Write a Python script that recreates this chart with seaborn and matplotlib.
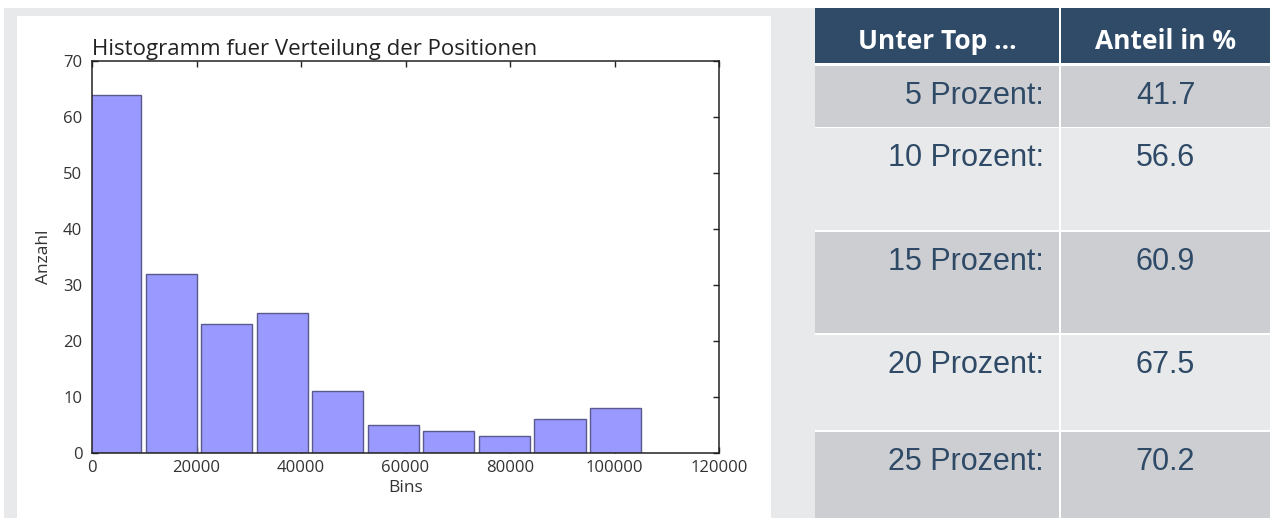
import numpy as np
import matplotlib
matplotlib.use("Agg")
import matplotlib.pyplot as plt
from matplotlib.patches import Rectangle
import seaborn as sns

# Histogram data (bin counts)
bin_edges = [-785, 9845, 20475, 31105, 41735, 52365, 62995, 73625, 84255, 94885, 105515]
counts = [64, 32, 23, 25, 11, 5, 4, 3, 6, 8]

# Table data
header = ["Unter Top ...", "Anteil in %"]
top_labels = ["5 Prozent:", "10 Prozent:", "15 Prozent:", "20 Prozent:", "25 Prozent:"]
anteil = [41.7, 56.6, 60.9, 67.5, 70.2]

sns.set_theme(style="ticks")
plt.rcParams["font.family"] = ["Open Sans", "DejaVu Sans"]

W, H = 1270, 518
fig = plt.figure(figsize=(W / 100, H / 100), dpi=100)
fig.patch.set_facecolor("white")

# background layer in pixel coordinates
bg = fig.add_axes([0, 0, 1, 1])
bg.set_xlim(0, W)
bg.set_ylim(H, 0)
bg.axis("off")
bg.add_patch(Rectangle((4, 8), W - 4, H - 8, color="#e8e9eb", lw=0))
bg.add_patch(Rectangle((17, 16), 771 - 17, H - 16, color="white", lw=0))

# table
navy = "#2f4b68"
txt_col = "#2e4a66"
col_l = (815, 1059)
col_r = (1061, 1270)
bg.add_patch(Rectangle((815, 8), W - 815, H - 8, color="white", lw=0))
for (x0, x1), h in zip([col_l, col_r], header):
    bg.add_patch(Rectangle((x0, 8), x1 - x0, 63 - 8, color=navy, lw=0))
    bg.text((x0 + x1) / 2, 49, h, ha="center", va="baseline", color="white",
            fontsize=19, fontweight="bold", family="Open Sans")

row_tops = [66, 128, 232, 335, 432]
row_bots = [127, 230, 333, 430, 518]
row_cols = ["#cdced2", "#e8e9eb", "#cdced2", "#e8e9eb", "#cdced2"]
for lab, val, y0, y1, c in zip(top_labels, anteil, row_tops, row_bots, row_cols):
    for x0, x1 in [col_l, col_r]:
        bg.add_patch(Rectangle((x0, y0), x1 - x0, y1 - y0, color=c, lw=0))
    bg.text(1044, y0 + 38, lab, ha="right", va="baseline", color=txt_col,
            fontsize=22, family="Liberation Sans")
    bg.text((col_r[0] + col_r[1]) / 2, y0 + 38, f"{val:.1f}", ha="center",
            va="baseline", color=txt_col, fontsize=22, family="Liberation Sans")

# histogram axes
ax = fig.add_axes([92 / W, (H - 453) / H, (719 - 92) / W, (453 - 61) / H])
ax.set_facecolor("white")
centers = (np.array(bin_edges[:-1]) + np.array(bin_edges[1:])) / 2
sns.histplot(x=centers, weights=counts, bins=bin_edges, shrink=0.92,
             color="#9999ff", edgecolor="#5a5a8c", linewidth=1, alpha=1, ax=ax)

ax.set_xlim(0, 120000)
ax.set_ylim(0, 70)
ax.set_xticks(np.arange(0, 120001, 20000))
ax.set_yticks(np.arange(0, 71, 10))
for s in ax.spines.values():
    s.set_visible(True)
    s.set_color("#222222")
    s.set_linewidth(1.1)
ax.tick_params(direction="in", top=True, right=True, length=4, width=1,
               color="#222222", labelcolor="#333333", labelsize=12)
ax.tick_params(axis="y", pad=7)
ax.tick_params(axis="x", pad=5)
ax.set_xlabel("Bins", fontsize=12.5, color="#333333", labelpad=3)
ax.set_ylabel("Anzahl", fontsize=12.5, color="#333333", labelpad=8)
ax.set_title("Histogramm fuer Verteilung der Positionen", loc="left",
             fontsize=16, color="#222222", pad=4)

fig.savefig("out.png", dpi=100)
